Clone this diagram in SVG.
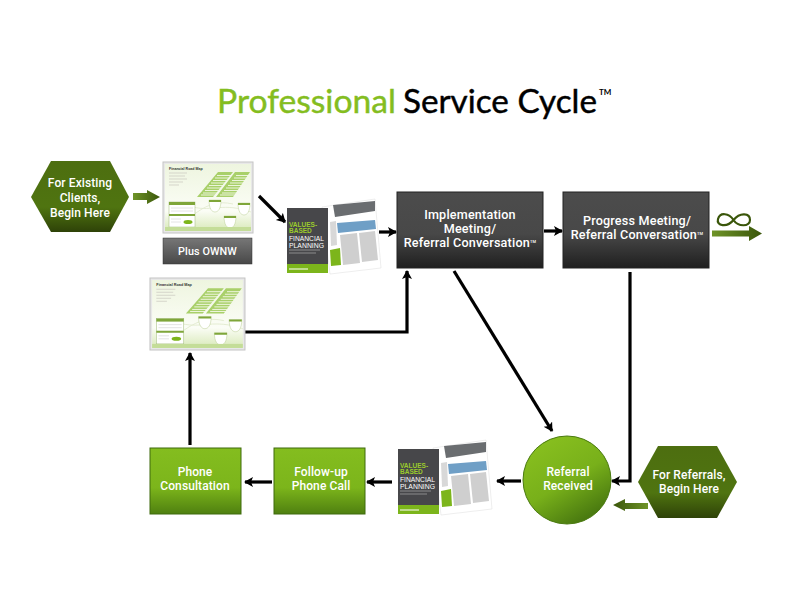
<svg xmlns="http://www.w3.org/2000/svg" width="792" height="612" viewBox="0 0 792 612">
<style>
.lbl{font-family:Roboto,"Liberation Sans",sans-serif;font-weight:500;font-size:12px;fill:#fff;text-anchor:middle;letter-spacing:.1px}
.big{font-size:12.6px;letter-spacing:.2px}
.title{font-family:Lato,"Noto Sans",sans-serif;font-size:33px;font-weight:400;stroke-width:.45px}
.conn{fill:none;stroke:#000;stroke-width:3.2;marker-end:url(#ah)}
.tiny{font-family:"Liberation Sans",sans-serif}
.band{fill:#a9d06a}
</style>
<defs>
<marker id="ah" markerUnits="userSpaceOnUse" markerWidth="11" markerHeight="11" refX="8" refY="5" orient="auto"><path d="M0,0L9,5L0,10L2,5Z" fill="#000"/></marker>
<linearGradient id="gHex" x1="0" y1="0" x2="0" y2="1"><stop offset="0" stop-color="#4d6e10"/><stop offset=".65" stop-color="#4f7410"/><stop offset="1" stop-color="#2e4208"/></linearGradient>
<linearGradient id="gDark" x1="0" y1="0" x2="0" y2="1"><stop offset="0" stop-color="#4c4c4c"/><stop offset=".55" stop-color="#484848"/><stop offset="1" stop-color="#1f1f1f"/></linearGradient>
<linearGradient id="gGrey" x1="0" y1="0" x2="0" y2="1"><stop offset="0" stop-color="#777"/><stop offset="1" stop-color="#484848"/></linearGradient>
<linearGradient id="gGreen" x1="0" y1="0" x2="0" y2="1"><stop offset="0" stop-color="#84bd1f"/><stop offset=".6" stop-color="#7cb51b"/><stop offset="1" stop-color="#4f8010"/></linearGradient>
<linearGradient id="gCirc" x1="0" y1="0" x2="0.6" y2="1"><stop offset="0" stop-color="#8cc320"/><stop offset=".6" stop-color="#78b01a"/><stop offset="1" stop-color="#4a7a10"/></linearGradient>
<linearGradient id="gArrR" x1="0" y1="0" x2="1" y2="0"><stop offset="0" stop-color="#6f9428"/><stop offset="1" stop-color="#3a560a"/></linearGradient>
<linearGradient id="gArrL" x1="1" y1="0" x2="0" y2="0"><stop offset="0" stop-color="#6f9428"/><stop offset="1" stop-color="#3a560a"/></linearGradient>
<linearGradient id="gMap" x1="0" y1="0" x2="0" y2="1"><stop offset="0" stop-color="#eef5df"/><stop offset=".7" stop-color="#fbfdf6"/><stop offset="1" stop-color="#d8e9b8"/></linearGradient>
<g id="map">
<rect x="0" y="0" width="90" height="71" fill="#e8e8e8" stroke="#c4c4c4"/>
<rect x="2" y="2" width="86" height="67" fill="url(#gMap)"/>
<text class="tiny" x="6" y="8" font-size="3.600" font-weight="700" fill="#333">Financial Road Map</text>
<path d="M6,11H24M6,14H22M6,17H24M6,20H20M6,23H16" stroke="#d5d5ca" stroke-width="1" fill="none"/>
<path d="M34,35L55,10H70L50,35ZM53,35L72,10H87L70,35Z" class="band"/>
<path d="M38,33H53M40,31H55M42,28.500H57M44,26H59M46,23.500H61M48,21H63M50,18.500H65M52,16H67M54,13.500H69M57,33H72M59,31H74M61,28.500H76M63,26H78M65,23.500H80M67,21H82M69,18.500H84M71,16H86M73,13.500H87" stroke="#f4f9e8" stroke-width=".9" fill="none"/>
<path d="M8,64C30,60 40,35 70,42M30,45C50,50 60,40 88,50" stroke="#dfe9cb" stroke-width=".8" fill="none"/>
<rect x="6" y="40" width="26" height="25" fill="#fff" stroke="#9fb97a" stroke-width=".5"/>
<rect x="6" y="40" width="26" height="3" fill="#7fa63a"/><rect x="6" y="52" width="26" height="2" fill="#7fa63a"/>
<path d="M8,46H30M8,49H30M8,57H18M8,60H18" stroke="#ddd" stroke-width=".8" fill="none"/>
<ellipse cx="25" cy="60" rx="4.500" ry="2" fill="#7cb51b"/>
<path d="M46,38h12c0,9-3,12-6,12s-6-3-6-12ZM75,41h12c0,9-3,12-6,12s-6-3-6-12ZM61,54h12c0,9-3,12-6,12s-6-3-6-12Z" fill="#fff" stroke="#b8cc92" stroke-width=".5"/>
<path d="M46,38h12v2h-12ZM75,41h12v2h-12ZM61,54h12v2h-12Z" fill="#7fa63a"/>
<rect x="2" y="65" width="86" height="4" fill="#c4dd98"/>
</g>
<g id="book">
<path d="M322,207L375,199L381,268L330,274Z" fill="#fff" stroke="#ddd" stroke-width=".5"/>
<path d="M333,205L375,201L375,211L335,217Z" fill="#6a6d70"/>
<path d="M337,223L375,220L376,229L338,233Z" fill="#6f9fc6"/>
<path d="M340,235L357,233L360,263L343,265ZM359,233L375,231L378,260L362,262Z" fill="#cfcfcf"/>
<path d="M330,222L336,221L337,245L331,246Z" fill="#d8d8d8"/>
<path d="M330,250L340,248L341,265L331,266Z" fill="#7cb51b"/>
<rect x="287" y="208" width="41" height="65" fill="#47474a"/>
<rect x="287" y="264" width="41" height="9" fill="#7cb51b"/>
<text class="tiny" x="289" y="227" font-size="6.500" fill="#9ccb2c" font-weight="700">VALUES-</text>
<text class="tiny" x="289" y="233" font-size="6.500" fill="#9ccb2c" font-weight="700">BASED</text>
<text class="tiny" x="289" y="240.500" font-size="7.500" fill="#fff" textLength="35" lengthAdjust="spacingAndGlyphs">FINANCIAL</text>
<text class="tiny" x="289" y="247.500" font-size="7.500" fill="#fff" textLength="35" lengthAdjust="spacingAndGlyphs">PLANNING</text>
<path d="M289,250H320M289,253H316" stroke="#aaa" stroke-width=".7" fill="none"/>
<path d="M289,269H308" stroke="#fff" stroke-width="1" fill="none"/>
</g>
</defs>
<rect width="792" height="612" fill="#fff"/>

<g id="title">
<text class="title" x="217" y="113" fill="#84bd1f" stroke="#84bd1f" textLength="179" lengthAdjust="spacingAndGlyphs">Professional</text>
<text class="title" x="403" y="113" fill="#000" stroke="#000" textLength="194" lengthAdjust="spacingAndGlyphs">Service Cycle</text>
<text x="599" y="95" font-family="Lato,sans-serif" font-size="8" font-weight="700" fill="#000">TM</text>
</g>

<g id="connectors">
<path class="conn" d="M259,196L285,222"/>
<path class="conn" d="M379,232H396"/>
<path class="conn" d="M544,231H562"/>
<path class="conn" d="M454,271L552,431"/>
<path class="conn" d="M630,272V481H612"/>
<path class="conn" d="M521,481H497"/>
<path class="conn" d="M392,482H367"/>
<path class="conn" d="M272,482H245"/>
<path class="conn" d="M190,445V353"/>
<path class="conn" d="M245,332H407V271"/>
<path d="M133,193H147V190L160,197L147,204V200H133Z" fill="url(#gArrR)"/>
<path d="M712,230.500H749V226L762,233.500L749,241V236.500H712Z" fill="url(#gArrR)"/>
<path d="M648,503H625V499L613,505L625,511V509H648Z" fill="url(#gArrL)"/>
</g>

<g id="n-existing">
<path d="M31,197L51,161H110L129,197L110,232H51Z" fill="url(#gHex)"/>
<text class="lbl" x="80" y="187">For Existing</text>
<text class="lbl" x="80" y="202">Clients,</text>
<text class="lbl" x="80" y="217">Begin Here</text>
</g>
<g id="n-map1"><use href="#map" x="163" y="162"/></g>
<g id="n-ownw">
<rect x="163" y="238" width="89" height="26" fill="url(#gGrey)" stroke="#333" stroke-width=".5"/>
<text class="lbl" x="207.500" y="255" style="font-size:10.800px">Plus OWNW</text>
</g>
<g id="n-book1"><use href="#book"/></g>
<g id="n-impl">
<rect x="397" y="192" width="146" height="76" fill="url(#gDark)" stroke="#222"/>
<text class="lbl big" x="470" y="219">Implementation</text>
<text class="lbl big" x="470" y="233">Meeting/</text>
<text class="lbl big" x="470" y="247">Referral Conversation<tspan font-size="4" dy="-4">TM</tspan></text>
</g>
<g id="n-progress">
<rect x="563" y="192" width="146" height="76" fill="url(#gDark)" stroke="#222"/>
<text class="lbl big" x="637" y="225">Progress Meeting/</text>
<text class="lbl big" x="637" y="239">Referral Conversation<tspan font-size="4" dy="-4">TM</tspan></text>
</g>
<g id="n-infinity">
<path d="M733.500,220C729,213 720,212 718,219C716,226 727,228 733.500,220C740,212 750,213 750,220C750,227 738,227 733.500,220Z" fill="none" stroke="#3a560a" stroke-width="2.200"/>
</g>
<g id="n-map2"><use href="#map" transform="translate(150,278) scale(1.055,1.014)"/></g>
<g id="n-referral">
<circle cx="567" cy="480" r="44" fill="url(#gCirc)" stroke="#4a7a10"/>
<text class="lbl" x="568" y="476">Referral</text>
<text class="lbl" x="568" y="490">Received</text>
</g>
<g id="n-forref">
<path d="M638,482L658,446H717L737,482L717,518H658Z" fill="url(#gHex)"/>
<text class="lbl" x="689" y="479">For Referrals,</text>
<text class="lbl" x="689" y="493">Begin Here</text>
</g>
<g id="n-book2"><use href="#book" x="111" y="241"/></g>
<g id="n-followup">
<rect x="274" y="448" width="91" height="66" fill="url(#gGreen)" stroke="#3f6a0c"/>
<text class="lbl" x="321" y="476">Follow-up</text>
<text class="lbl" x="321" y="490">Phone Call</text>
</g>
<g id="n-phone">
<rect x="150" y="448" width="91" height="66" fill="url(#gGreen)" stroke="#3f6a0c"/>
<text class="lbl" x="195" y="476">Phone</text>
<text class="lbl" x="195" y="490">Consultation</text>
</g>
</svg>
